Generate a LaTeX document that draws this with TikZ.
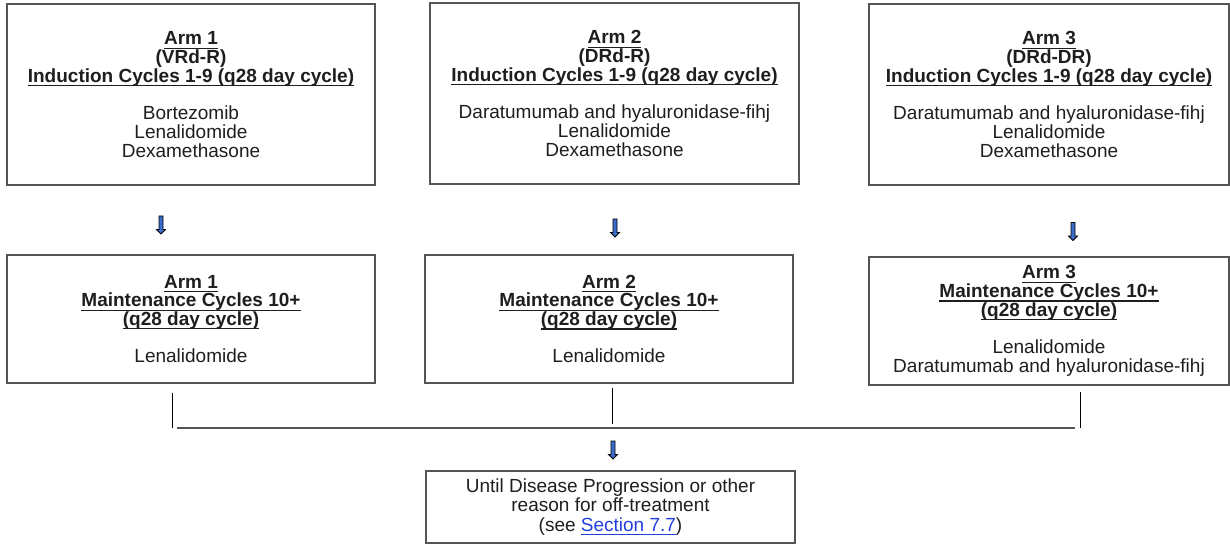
\documentclass[tikz,border=0pt]{standalone}
\usepackage{fontspec}
\setmainfont{Liberation Sans}
\usetikzlibrary{shapes.arrows}

\definecolor{boxgray}{HTML}{555555}
\definecolor{textgray}{HTML}{1E1E1E}
\definecolor{arrowblue}{HTML}{3B6CC9}
\definecolor{linkblue}{HTML}{1F3FE0}

% fixed line spacing inside the boxes
\newcommand{\armfont}{\fontsize{9.5}{9.35}\selectfont\setlength{\lineskiplimit}{-5pt}}
% underline set close to the baseline
\newcommand{\ulhead}[1]{\setbox0\hbox{#1}\rlap{\rule[-2pt]{\wd0}{0.6pt}}\box0}

\begin{document}
\begin{tikzpicture}[
    x=0.5pt, y=-0.5pt,
    armbox/.style={rectangle, draw=boxgray, line width=0.65pt, align=center, inner sep=0pt, text=textgray, font=\armfont},
    induction/.style={armbox, minimum height=90.5pt},
    maintenance/.style={armbox, minimum height=64pt},
    downarrow/.style={single arrow, draw=black, fill=arrowblue, line width=0.4pt, shape border rotate=270, minimum height=9pt, single arrow head extend=1.2pt, inner sep=0.8pt},
    joinline/.style={draw=black, line width=0.5pt},
    busline/.style={draw=boxgray, line width=0.65pt}
]

\useasboundingbox (0,0) rectangle (1230,545);

% Induction phase (top row)
\node[induction, minimum width=184pt] (ind1) at (191,94.5) {\textbf{\ulhead{Arm 1}}\\ \textbf{(VRd-R)}\\ \textbf{\ulhead{Induction Cycles 1-9 (q28 day cycle)}}\\[9.35pt] Bortezomib\\ Lenalidomide\\ Dexamethasone};
\node[induction, minimum width=184.5pt] (ind2) at (614.5,93.5) {\textbf{\ulhead{Arm 2}}\\ \textbf{(DRd-R)}\\ \textbf{\ulhead{Induction Cycles 1-9 (q28 day cycle)}}\\[9.35pt] Daratumumab and hyaluronidase-fihj\\ Lenalidomide\\ Dexamethasone};
\node[induction, minimum width=180pt] (ind3) at (1049,94.5) {\textbf{\ulhead{Arm 3}}\\ \textbf{(DRd-DR)}\\ \textbf{\ulhead{Induction Cycles 1-9 (q28 day cycle)}}\\[9.35pt] Daratumumab and hyaluronidase-fihj\\ Lenalidomide\\ Dexamethasone};

% Block arrows between the phases
\node[downarrow] (down1) at (161,224) {};
\node[downarrow] (down2) at (615,227) {};
\node[downarrow] (down3) at (1073,230.5) {};

% Maintenance phase (middle row)
\node[maintenance, minimum width=184pt] (maint1) at (191,319) {\textbf{\ulhead{Arm 1}}\\ \textbf{\ulhead{Maintenance Cycles 10+}}\\ \textbf{\ulhead{(q28 day cycle)}}\\[9.35pt] Lenalidomide};
\node[maintenance, minimum width=184pt] (maint2) at (609,319) {\textbf{\ulhead{Arm 2}}\\ \textbf{\ulhead{Maintenance Cycles 10+}}\\ \textbf{\ulhead{(q28 day cycle)}}\\[9.35pt] Lenalidomide};
\node[maintenance, minimum width=180pt] (maint3) at (1049,321) {\textbf{\ulhead{Arm 3}}\\ \textbf{\ulhead{Maintenance Cycles 10+}}\\ \textbf{\ulhead{(q28 day cycle)}}\\[9.35pt] Lenalidomide\\ Daratumumab and hyaluronidase-fihj};

% Joining lines
\coordinate (bus1) at (172,428);
\coordinate (bus2) at (612,424);
\coordinate (bus3) at (1080,428);
\draw[joinline] (maint1.south -| bus1) ++(0,9) -- (bus1);
\draw[joinline] (maint2.south -| bus2) ++(0,4) -- (bus2);
\draw[joinline] (maint3.south -| bus3) ++(0,6) -- (bus3);
\draw[busline] ([xshift=2.5pt]bus1) -- ([xshift=-2.5pt]bus3);

\node[downarrow] (down4) at (613,449) {};

% End of treatment
\node[armbox, minimum width=184.5pt, minimum height=36pt, font=\fontsize{9.5}{9.6}\selectfont] (offtx) at (610.5,507) {Until Disease Progression or other\\ reason for off-treatment\\ (see \textcolor{linkblue}{\ulhead{Section 7.7}})};

\end{tikzpicture}
\end{document}
